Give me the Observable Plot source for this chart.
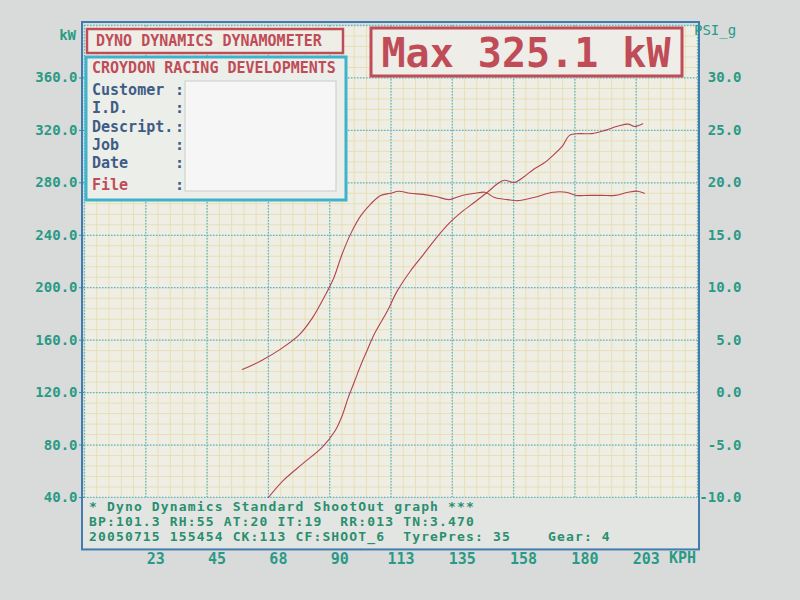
<!DOCTYPE html>
<html><head><meta charset="utf-8">
<script src="https://cdn.jsdelivr.net/npm/d3@7"></script>
<script src="https://cdn.jsdelivr.net/npm/@observablehq/plot@0.6"></script>
<style>
html,body{margin:0;padding:0;background:#d9dbdb;}
#chart{width:800px;height:600px;}
svg text{white-space:pre;}
</style></head><body><div id="chart"></div>
<script>
// ---- data read from the dyno sheet ----
const powerSpeedKph = [67.5, 72.9, 80.0, 87.2, 92.0, 94.5, 96.8, 99.2, 101.5, 104.0, 106.3, 111.1, 114.7, 119.5, 124.3, 129.0, 133.8, 138.6, 143.4, 148.1, 151.7, 154.1, 157.7, 161.3, 164.9, 168.4, 172.0, 175.6, 178.0, 181.6, 186.3, 191.1, 195.9, 199.5, 201.9, 204.9];
const powerKw       = [40.0, 52.9, 65.6, 78.2, 90.9, 102.0, 116.2, 129.0, 141.5, 153.5, 164.3, 182.0, 197.2, 212.4, 225.1, 237.7, 249.1, 258.0, 265.6, 273.2, 279.5, 282.0, 280.3, 284.6, 290.4, 294.7, 301.0, 308.6, 316.2, 317.5, 317.5, 320.0, 323.3, 324.8, 323.0, 325.1];
const boostSpeedKph = [57.9, 64.5, 71.7, 78.8, 83.6, 88.4, 91.6, 94.4, 98.0, 101.5, 105.1, 108.7, 112.3, 115.3, 119.5, 124.3, 129.0, 133.8, 138.6, 143.4, 147.0, 150.5, 155.3, 158.9, 164.9, 172.0, 176.8, 180.4, 185.2, 189.9, 194.7, 199.5, 203.1, 205.5];
const boostPsi      = [2.2, 3.0, 4.1, 5.5, 7.1, 9.3, 11.0, 13.1, 15.3, 16.9, 18.0, 18.8, 19.0, 19.2, 19.0, 18.9, 18.7, 18.4, 18.8, 19.0, 19.1, 18.6, 18.4, 18.3, 18.6, 19.1, 19.1, 18.8, 18.8, 18.8, 18.8, 19.1, 19.2, 19.0];

const speedTicks = [22.5, 45, 67.5, 90, 112.5, 135, 157.5, 180, 202.5];
const powerTicks = [40, 80, 120, 160, 200, 240, 280, 320, 360];
const psiTicks   = [-10, -5, 0, 5, 10, 15, 20, 25, 30];
const maxPowerKw = 325.1;

const headerTitle = "DYNO DYNAMICS DYNAMOMETER";
const shopName = "CROYDON RACING DEVELOPMENTS";
const infoLabels = ["Customer", "I.D.", "Descript.", "Job", "Date", "File"];
const footerLines = [
  "* Dyno Dynamics Standard ShootOut graph ***",
  "BP:101.3 RH:55 AT:20 IT:19  RR:013 TN:3.470",
  "20050715 155454 CK:113 CF:SHOOT_6  TyrePres: 35"
];
const gearText = "Gear: 4";

// boost (PSI_g) is drawn against the kW scale: 0 psi = 120 kW, 8 kW per psi
const psiToKw = p => 120 + 8 * p;
const kwToPsi = k => (k - 120) / 8;

const power = powerSpeedKph.map((s, i) => ({speed: s, kw: powerKw[i]}));
const boost = boostSpeedKph.map((s, i) => ({speed: s, psi: boostPsi[i]}));

const minorX = d3.range(0, 225.01, 4.5);
const minorY = d3.range(40, 400.01, 8);
const majorX = d3.range(0, 225.01, 22.5);
const majorY = d3.range(40, 400.01, 40);

const MONO = "'DejaVu Sans Mono', 'Liberation Mono', monospace";
const TEAL = "#2a9a86";
const RED = "#c04c58";
const CURVE = "#b2434f";

const chart = Plot.plot({
  width: 800, height: 600,
  marginLeft: 84, marginRight: 103, marginTop: 25, marginBottom: 103,
  x: {domain: [0, 225]},
  y: {domain: [40, 400]},
  style: {background: "transparent", fontFamily: MONO},
  marks: [
    Plot.frame({fill: "#efeee4", stroke: null}),
    Plot.gridX(minorX, {stroke: "#e8dfb6", strokeOpacity: 1, strokeWidth: 1}),
    Plot.gridY(minorY, {stroke: "#e8dfb6", strokeOpacity: 1, strokeWidth: 1}),
    Plot.gridX(majorX, {stroke: "#5bb8d2", strokeOpacity: 1, strokeWidth: 1.3, strokeDasharray: "1.5,1.5"}),
    Plot.gridY(majorY, {stroke: "#5bb8d2", strokeOpacity: 1, strokeWidth: 1.3, strokeDasharray: "1.5,1.5"}),
    Plot.line(boost, {x: "speed", y: d => psiToKw(d.psi), stroke: CURVE, strokeWidth: 1.1, curve: "catmull-rom"}),
    Plot.line(power, {x: "speed", y: "kw", stroke: CURVE, strokeWidth: 1.1, curve: "catmull-rom"}),
    Plot.axisY(powerTicks, {anchor: "left", tickFormat: d => d.toFixed(1), color: TEAL, fontSize: 14, fontWeight: "bold", tickSize: 5, tickPadding: 2, label: null}),
    Plot.axisY(psiTicks.map(psiToKw), {anchor: "right", tickFormat: d => kwToPsi(d).toFixed(1), color: TEAL, fontSize: 14, fontWeight: "bold", tickSize: 0, tickPadding: 0, textAnchor: "end", dx: 44, label: null}),
    Plot.axisX(speedTicks, {anchor: "bottom", tickFormat: d => String(Math.round(d)), color: TEAL, fontSize: 15, fontWeight: "bold", tickSize: 0, tickPadding: 56, dx: 10, label: null})
  ]
});
document.getElementById("chart").appendChild(chart);

// ---- sheet decorations ----
const svg = d3.select(chart);
const xs = chart.scale("x"), ys = chart.scale("y");
const X = v => xs.apply(v), Y = v => ys.apply(v);
const g = svg.append("g").attr("font-family", MONO).attr("font-weight", "bold").attr("text-anchor", "start");

// outer printed frame (extends below the grid to hold the footer)
g.append("rect").attr("x", X(0) - 1).attr("y", Y(40) + 1)
  .attr("width", X(225) - X(0) + 2).attr("height", Y(0) - Y(40) - 2)
  .attr("fill", "#e3e5e3");
g.append("rect").attr("x", X(0) - 2).attr("y", Y(400) - 3)
  .attr("width", X(225) - X(0) + 4).attr("height", Y(0) - Y(400) + 3)
  .attr("fill", "none").attr("stroke", "#3f7cb0").attr("stroke-width", 2);

// axis unit labels
g.append("text").attr("x", 76).attr("y", 40).attr("text-anchor", "end").attr("fill", TEAL).attr("font-size", 14).text("kW");
g.append("text").attr("x", 694).attr("y", 35).attr("fill", TEAL).attr("font-size", 14).attr("font-weight", "normal").text("PSI_g");
g.append("text").attr("x", 669).attr("y", 563).attr("fill", TEAL).attr("font-size", 15).text("KPH");

// title box
g.append("rect").attr("x", 87).attr("y", 29).attr("width", 256).attr("height", 24)
  .attr("fill", "#eeede6").attr("stroke", RED).attr("stroke-width", 2.5);
g.append("text").attr("x", 96).attr("y", 46).attr("fill", RED).attr("font-size", 15).text(headerTitle);

// info box
g.append("rect").attr("x", 86).attr("y", 57).attr("width", 260).attr("height", 143)
  .attr("fill", "#eceee9").attr("stroke", "#3db3cc").attr("stroke-width", 3);
g.append("text").attr("x", 92).attr("y", 73).attr("fill", RED).attr("font-size", 15).text(shopName);
g.append("rect").attr("x", 185).attr("y", 81).attr("width", 151).attr("height", 110)
  .attr("fill", "#f5f6f5").attr("stroke", "#c9cbc9").attr("stroke-width", 1);
const rowY = [95, 113, 132, 150, 168, 190];
infoLabels.forEach((lab, i) => {
  const c = i === infoLabels.length - 1 ? RED : "#3f5c86";
  g.append("text").attr("x", 92).attr("y", rowY[i]).attr("fill", c).attr("font-size", 15).text(lab);
  g.append("text").attr("x", 175).attr("y", rowY[i]).attr("fill", "#3f5c86").attr("font-size", 15).text(":");
});

// max power box
g.append("rect").attr("x", 371).attr("y", 28).attr("width", 311).attr("height", 48)
  .attr("fill", "#eeede7").attr("stroke", RED).attr("stroke-width", 3);
g.append("text").attr("x", 526).attr("y", 67).attr("text-anchor", "middle").attr("fill", RED)
  .attr("font-size", 40).text(`Max ${maxPowerKw.toFixed(1)} kW`);

// footer
const footY = [511, 526, 541];
footerLines.forEach((t, i) => {
  g.append("text").attr("x", 89).attr("y", footY[i]).attr("fill", "#2a8f6e")
    .attr("font-size", 13).attr("letter-spacing", 1.15).text(t);
});
g.append("text").attr("x", 548).attr("y", footY[2]).attr("fill", "#2a8f6e")
  .attr("font-size", 13).attr("letter-spacing", 1.15).text(gearText);
</script>
</body></html>
